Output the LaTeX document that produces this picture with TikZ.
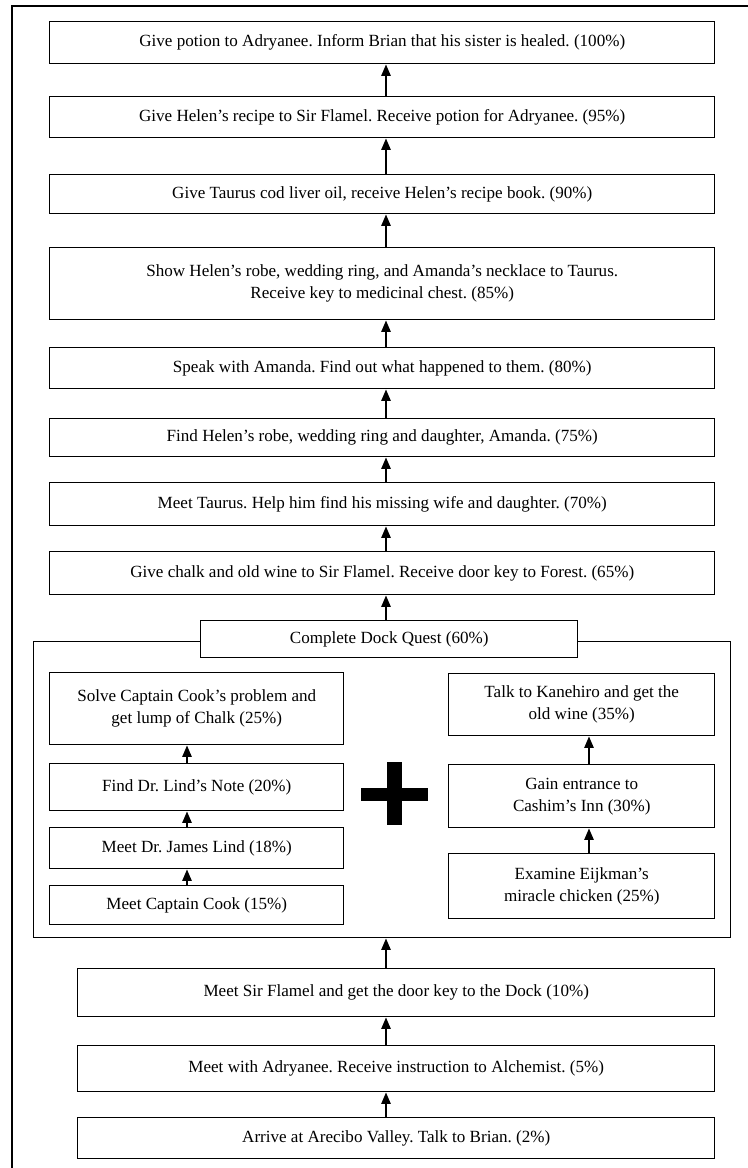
\documentclass[tikz,border=0pt]{standalone}
\usepackage{fontspec}
\setmainfont{Liberation Serif}
\usetikzlibrary{arrows.meta}
\frenchspacing

\tikzset{
  stage/.style 2 args={draw, line width=1.1pt, fill=white, anchor=north west, align=center,
    inner sep=0pt, minimum width=#1*0.75pt, minimum height=#2*0.75pt,
    font=\fontsize{12.8}{16.5}\selectfont},
  upar/.style={-{Triangle[length=8.5pt,width=7pt]}, line width=1pt}
}

\begin{document}
\begin{tikzpicture}[x=0.75pt,y=-0.75pt]
\useasboundingbox (0,0) rectangle (748,1168);
\draw[line width=1.5pt] (12,6) rectangle (780,1200);
% main chain, top part
\node[stage={665}{42}] (p100) at (49,21) {Give potion to Adryanee. Inform Brian that his sister is healed. (100\%)};
\node[stage={665}{41}] (p95) at (49,96) {Give Helen's recipe to Sir Flamel. Receive potion for Adryanee. (95\%)};
\node[stage={665}{39}] (p90) at (49,174) {Give Taurus cod liver oil, receive Helen's recipe book. (90\%)};
\node[stage={665}{72}] (p85) at (49,247) {Show Helen's robe, wedding ring, and Amanda's necklace to Taurus.\\Receive key to medicinal chest. (85\%)};
\node[stage={665}{41}] (p80) at (49,347) {Speak with Amanda. Find out what happened to them. (80\%)};
\node[stage={665}{38}] (p75) at (49,418) {Find Helen's robe, wedding ring and daughter, Amanda. (75\%)};
\node[stage={665}{43}] (p70) at (49,482) {Meet Taurus. Help him find his missing wife and daughter. (70\%)};
\node[stage={665}{43}] (p65) at (49,551) {Give chalk and old wine to Sir Flamel. Receive door key to Forest. (65\%)};
% dock quest
\node[stage={697}{296}] (dockframe) at (33,641) {};
\node[stage={377}{37}] (p60) at (200,620) {Complete Dock Quest (60\%)};
\node[stage={294}{72}] (solve) at (49,672) {Solve Captain Cook's problem and\\get lump of Chalk (25\%)};
\node[stage={294}{47}] (note) at (49,763) {Find Dr. Lind's Note (20\%)};
\node[stage={294}{41}] (lind) at (49,827) {Meet Dr. James Lind (18\%)};
\node[stage={294}{39}] (cook) at (49,885) {Meet Captain Cook (15\%)};
\node[stage={266}{62}] (wine) at (448,673) {Talk to Kanehiro and get the\\old wine (35\%)};
\node[stage={266}{63}] (inn) at (448,764) {Gain entrance to\\Cashim's Inn (30\%)};
\node[stage={266}{65}] (chicken) at (448,853) {Examine Eijkman's\\miracle chicken (25\%)};
\fill (361,788) rectangle (428,801);
\fill (387,762) rectangle (402,825);
% main chain, bottom part
\node[stage={637}{48}] (p10) at (77,968) {Meet Sir Flamel and get the door key to the Dock (10\%)};
\node[stage={637}{46}] (p05) at (77,1045) {Meet with Adryanee. Receive instruction to Alchemist. (5\%)};
\node[stage={637}{41}] (p02) at (77,1117) {Arrive at Arecibo Valley. Talk to Brian. (2\%)};
% arrows
\coordinate (spine) at (386,0);
\coordinate (lspine) at (187,0);
\coordinate (rspine) at (589,0);
\foreach \a/\b in {p02/p05,p05/p10,p10/dockframe,p60/p65,p65/p70,p70/p75,p75/p80,p80/p85,p85/p90,p90/p95,p95/p100}
  \draw[upar] (\a.north -| spine) -- (\b.south -| spine);
\foreach \a/\b in {cook/lind,lind/note,note/solve}
  \draw[upar] (\a.north -| lspine) -- (\b.south -| lspine);
\foreach \a/\b in {chicken/inn,inn/wine}
  \draw[upar] (\a.north -| rspine) -- (\b.south -| rspine);
\end{tikzpicture}
\end{document}
